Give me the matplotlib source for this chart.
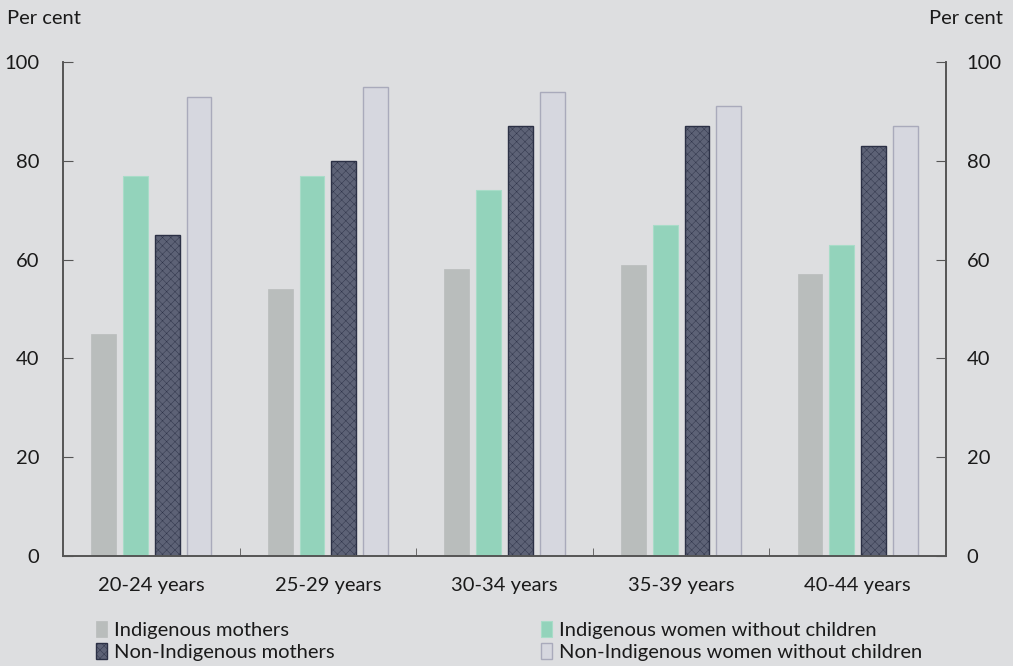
import matplotlib
matplotlib.use("Agg")
import matplotlib.pyplot as plt
import numpy as np

categories = ["20-24 years", "25-29 years", "30-34 years", "35-39 years", "40-44 years"]
series_names = ["Indigenous mothers", "Indigenous women without children",
                "Non-Indigenous mothers", "Non-Indigenous women without children"]
indig_mothers = [45, 54, 58, 59, 57]
indig_nochild = [77, 77, 74, 67, 63]
nonindig_mothers = [65, 80, 87, 87, 83]
nonindig_nochild = [93, 95, 94, 91, 87]
yticks = [0, 20, 40, 60, 80, 100]

plt.rcParams['font.family'] = ['Lato', 'DejaVu Sans']
plt.rcParams['hatch.linewidth'] = 0.3
plt.rcParams['hatch.color'] = '#8a90a2'
bg = '#dddee0'
fs = 14.5
fig = plt.figure(figsize=(10.13, 6.66), dpi=100, facecolor=bg)
ax = fig.add_axes([63/1013, 1-556/666, (946-63)/1013, (556-62)/666])
ax.set_facecolor(bg)

x = np.arange(len(categories))
w = 0.14
offs = [-0.27, -0.09, 0.09, 0.27]
styles = [
    dict(color='#b9bdbc', edgecolor='#b9bdbc', linewidth=0.5),
    dict(color='#93d3bb', edgecolor='#a8dcc8', linewidth=0.8),
    dict(color='#5d6276', edgecolor='#2b3045', linewidth=1.0, hatch='xxxx'),
    dict(color='#d6d7df', edgecolor='#a9aabb', linewidth=1.0),
]
data = [indig_mothers, indig_nochild, nonindig_mothers, nonindig_nochild]
handles = []
for vals, off, st, name in zip(data, offs, styles, series_names):
    b = ax.bar(x + off, vals, w, label=name, **st)
    handles.append(b)

ax.set_xlim(-0.5, len(categories) - 0.5)
ax.set_ylim(0, 100)
ax.set_yticks(yticks)
ax.set_xticks(x)
ax.set_xticklabels(categories, fontsize=fs, color='#1a1a1a')
ax.tick_params(axis='x', length=0, pad=15)
ax.set_xticks(np.arange(0.5, len(categories) - 0.5, 1), minor=True)
ax.tick_params(axis='x', which='minor', direction='in', length=6, color='#555555')
ax.tick_params(axis='y', direction='in', length=7, color='#555555', labelsize=fs,
               labelcolor='#1a1a1a', pad=17, left=True, right=True,
               labelleft=True, labelright=False)
ax2 = ax.twinx()
ax2.set_ylim(0, 100)
ax2.set_yticks(yticks)
ax2.tick_params(axis='y', direction='in', length=7, color='#555555', labelsize=fs,
                labelcolor='#1a1a1a', pad=15)
for a in (ax, ax2):
    for s in ['left', 'right', 'bottom']:
        a.spines[s].set_color('#555555')
        a.spines[s].set_linewidth(1.2)
    a.spines['top'].set_visible(False)

fig.text(7/1013, 1-19/666, "Per cent", fontsize=fs, color='#1a1a1a', va='center', ha='left')
fig.text(1003/1013, 1-19/666, "Per cent", fontsize=fs, color='#1a1a1a', va='center', ha='right')

legkw = dict(frameon=False, fontsize=fs, handlelength=0.55, handleheight=0.85,
             handletextpad=0.35, labelspacing=0.22, borderaxespad=0, borderpad=0)
leg1 = fig.legend(handles=[handles[0], handles[2]],
                  labels=[series_names[0], series_names[2]],
                  loc='upper left', bbox_to_anchor=(96/1013, 1-621/666), **legkw)
leg2 = fig.legend(handles=[handles[1], handles[3]],
                  labels=[series_names[1], series_names[3]],
                  loc='upper left', bbox_to_anchor=(541/1013, 1-621/666), **legkw)
for lg in (leg1, leg2):
    for t in lg.get_texts():
        t.set_color('#1a1a1a')

fig.savefig("out.png", dpi=100, facecolor=bg)
